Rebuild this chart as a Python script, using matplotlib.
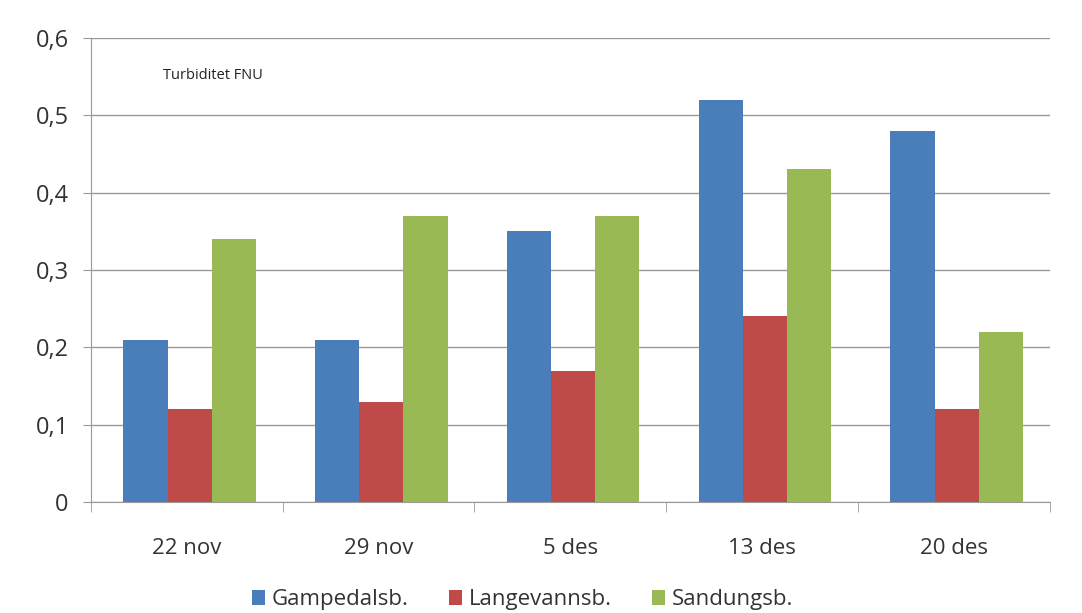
import matplotlib.pyplot as plt
import numpy as np

# Data
datoer = ['22 nov', '29 nov', '5 des', '13 des', '20 des']
gampedal = [0.21, 0.21, 0.35, 0.52, 0.48]
langevann = [0.12, 0.13, 0.17, 0.24, 0.12]
sandungs = [0.34, 0.37, 0.37, 0.43, 0.22]
serier = ['Gampedalsb.', 'Langevannsb.', 'Sandungsb.']
farger = ['#4a7ebb', '#be4b48', '#98b954']

plt.rcParams['font.family'] = ['Open Sans', 'DejaVu Sans']

fig = plt.figure(figsize=(10.82, 6.13), dpi=100)
ax = fig.add_axes([0.084, 0.181, 0.886, 0.757])

x = np.arange(len(datoer))
w = 0.23
for i, (verdier, navn, farge) in enumerate(zip([gampedal, langevann, sandungs], serier, farger)):
    ax.bar(x + (i - 1) * w + 0.015, verdier, w, color=farge, label=navn, zorder=3)

ax.set_xlim(-0.5, len(datoer) - 0.5)
ax.set_ylim(0, 0.6)
ax.set_yticks(np.arange(0, 0.61, 0.1))
ax.set_yticklabels(['0', '0,1', '0,2', '0,3', '0,4', '0,5', '0,6'], fontsize=17, color='#333333')
ax.set_xticks(x)
ax.set_xticklabels(datoer, fontsize=16, color='#333333')
ax.tick_params(axis='x', length=0, pad=26)
ax.tick_params(axis='y', length=6, color='#999999', pad=10)

# tick marks between categories
ax.set_xticks(np.arange(-0.5, len(datoer), 1), minor=True)
ax.tick_params(axis='x', which='minor', length=7, color='#999999')

ax.grid(axis='y', color='#999999', linewidth=1, zorder=0)
for s in ['top', 'right']:
    ax.spines[s].set_visible(False)
for s in ['left', 'bottom']:
    ax.spines[s].set_color('#999999')

ax.text(0.075, 0.935, 'Turbiditet FNU', transform=ax.transAxes, fontsize=10.5, color='#222222', va='top')

ax.legend(loc='upper center', bbox_to_anchor=(0.45, -0.145), ncol=3, frameon=False,
          fontsize=16, handlelength=0.6, handleheight=0.6, columnspacing=1.8, handletextpad=0.3,
          labelcolor='#333333')

fig.savefig('out.png', dpi=100)
